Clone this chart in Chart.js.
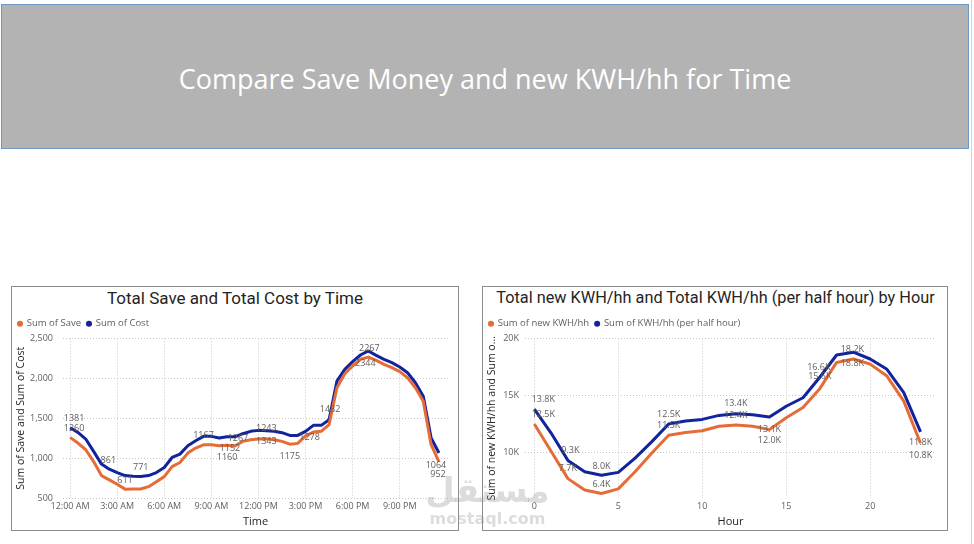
<!DOCTYPE html>
<html>
<head>
<meta charset="utf-8">
<script src="https://cdn.jsdelivr.net/npm/chart.js@4.4.0/dist/chart.umd.min.js"></script>
<style>
    body { margin: 0; width: 974px; height: 544px; background: #fff; position: relative; overflow: hidden; font-family: "Open Sans", sans-serif; }
    #banner { position: absolute; left: 1px; top: 4px; width: 968px; height: 145px; box-sizing: border-box; background: #b3b3b3; border: 1px solid #6d98c6; }
    #banner div { position: absolute; left: 0; right: 0; top: 56px; text-align: center; color: #fff; font-size: 27px; line-height: 36px; }
    #edge { position: absolute; left: 971px; top: 0; width: 1px; height: 544px; background: #d4d4d4; }
    .card { position: absolute; top: 286px; height: 245px; box-sizing: border-box; border: 1px solid #8c8c8c; background: #fff; }
    .card .title { position: absolute; left: 0; right: 0; top: 1px; text-align: center; font-family: Roboto, sans-serif; font-size: 17px; line-height: 20px; color: #252423; white-space: nowrap; }
    .card canvas { position: absolute; left: 0; top: 0; }
    #mark { position: absolute; left: 420px; top: 470px; width: 135px; text-align: center; color: rgba(140, 140, 140, 0.3); font-family: "DejaVu Sans", sans-serif; font-weight: bold; pointer-events: none; }
    #mark .ar { font-size: 34px; line-height: 40px; }
    #mark .en { font-size: 16px; line-height: 18px; }
</style>
</head>
<body>
<div id="banner"><div>Compare Save Money and new KWH/hh for Time</div></div>
<div id="edge"></div>

<div class="card" style="left: 11px; width: 448px;">
    <div class="title">Total Save and Total Cost by Time</div>
    <canvas id="time-chart" width="446" height="243"></canvas>
</div>

<div class="card" style="left: 482px; width: 466px;">
    <div class="title" style="font-size: 16.3px; left: 1px;">Total new KWH/hh and Total KWH/hh (per half hour) by Hour</div>
    <canvas id="hour-chart" width="464" height="243"></canvas>
</div>

<div id="mark"><div class="ar">مستقل</div><div class="en">mostaql.com</div></div>

<script>
    // Data, left chart (half hour slots)
    const times = ["12:00 AM", "12:30 AM", "1:00 AM", "1:30 AM", "2:00 AM", "2:30 AM", "3:00 AM", "3:30 AM",
        "4:00 AM", "4:30 AM", "5:00 AM", "5:30 AM", "6:00 AM", "6:30 AM", "7:00 AM", "7:30 AM",
        "8:00 AM", "8:30 AM", "9:00 AM", "9:30 AM", "10:00 AM", "10:30 AM", "11:00 AM", "11:30 AM",
        "12:00 PM", "12:30 PM", "1:00 PM", "1:30 PM", "2:00 PM", "2:30 PM", "3:00 PM", "3:30 PM",
        "4:00 PM", "4:30 PM", "5:00 PM", "5:30 PM", "6:00 PM", "6:30 PM", "7:00 PM", "7:30 PM",
        "8:00 PM", "8:30 PM", "9:00 PM", "9:30 PM", "10:00 PM", "10:30 PM", "11:00 PM", "11:30 PM"];
    const timeTicks = ["12:00 AM", "3:00 AM", "6:00 AM", "9:00 AM", "12:00 PM", "3:00 PM", "6:00 PM", "9:00 PM"];
    const saveValues = [1260, 1189, 1105, 957, 781, 727, 672, 611, 613, 613, 642, 705,
        768, 894, 945, 1063, 1126, 1167, 1168, 1155, 1160, 1152, 1210, 1231,
        1239, 1243, 1231, 1210, 1175, 1185, 1278, 1327, 1336, 1420, 1882, 2058,
        2155, 2239, 2267, 2226, 2176, 2134, 2084, 2008, 1882, 1714, 1168, 952];
    const costValues = [1381, 1323, 1239, 1084, 925, 861, 819, 781, 773, 771, 781, 819,
        882, 1008, 1050, 1155, 1218, 1273, 1273, 1252, 1269, 1267, 1306, 1336,
        1348, 1343, 1336, 1319, 1285, 1285, 1336, 1411, 1411, 1482, 1966, 2113,
        2210, 2293, 2344, 2289, 2239, 2197, 2142, 2071, 1945, 1777, 1252, 1064];

    // Data, right chart (hour of day)
    const hours = [0, 1, 2, 3, 4, 5, 6, 7, 8, 9, 10, 11, 12, 13, 14, 15, 16, 17, 18, 19, 20, 21, 22, 23];
    const hourTicks = [0, 5, 10, 15, 20];
    const kwhTicks = [10000, 15000, 20000];
    const newKwh = [12500, 10100, 7700, 6700, 6400, 6800, 8300, 9950, 11500, 11750, 11900, 12300,
        12400, 12300, 12000, 13050, 13950, 15600, 17900, 18200, 17750, 16700, 14500, 10800];
    const halfHourKwh = [13800, 11700, 9300, 8300, 8000, 8250, 9500, 10950, 12500, 12750, 12900, 13250,
        13400, 13300, 13100, 14050, 14800, 16600, 18550, 18800, 18200, 17300, 15250, 11800];

    // which points get a value label: [dataset, index, dx, dy]
    const timeLabels = [[1, 0, 4, -9], [0, 0, 4, -9], [1, 5, -1, -9], [0, 7, 0, -9], [1, 9, 0, -9],
        [0, 17, 0, -9], [0, 21, -5, 2], [0, 20, 0, 12], [1, 21, 3, 2], [0, 25, 0, -10], [1, 25, 0, 11],
        [0, 28, 0, 12], [0, 30, 4, 1.5], [1, 33, 1, -10], [0, 38, 1, -9], [1, 38, -3, 12],
        [1, 47, -3, 12], [0, 47, -1, 12]];
    const hourLabels = [[1, 0, 9, -10], [0, 0, 9, -10], [1, 2, 2.5, -10], [0, 2, 0, -10.5],
        [1, 4, 0, -9], [0, 4, 0, -9.5], [1, 8, 0, -9.5], [0, 8, 0, -9.5], [1, 12, 0, -10], [0, 12, 0, -10],
        [1, 14, 0, 12], [0, 14, 0, 11], [1, 17, -1, -10], [0, 17, 0, -12.5], [0, 19, -1, -10],
        [1, 19, -1, 11.5], [1, 23, 0, 10.5], [0, 23, 0, 12]];

    const orange = "#E66C37";
    const blue = "#12239E";
    const tickColor = "#605E5C";
    const gridColor = "#C8C6C4";

    Chart.defaults.font.family = '"Open Sans", sans-serif';
    Chart.defaults.color = tickColor;

    // draws the Power BI style data labels
    function valueLabels(items, format) {
        return {
            id: 'valueLabels',
            afterDatasetsDraw: function (chart) {
                const ctx = chart.ctx;
                ctx.save();
                ctx.font = '9px "Open Sans"';
                ctx.fillStyle = tickColor;
                ctx.textAlign = 'center';
                ctx.textBaseline = 'middle';
                items.forEach(function (it) {
                    const pt = chart.getDatasetMeta(it[0]).data[it[1]];
                    const v = chart.data.datasets[it[0]].data[it[1]].y;
                    ctx.fillText(format(v), pt.x + it[2], pt.y + it[3]);
                });
                ctx.restore();
            }
        };
    }

    function line(label, xs, ys, color) {
        return {
            label: label,
            data: ys.map(function (v, i) { return {x: xs[i], y: v}; }),
            borderColor: color,
            backgroundColor: color,
            borderWidth: 3,
            borderJoinStyle: 'round',
            pointRadius: 0,
            tension: 0
        };
    }

    function legendOpts() {
        return {
            position: 'top',
            align: 'start',
            labels: {
                usePointStyle: true,
                pointStyle: 'circle',
                boxWidth: 4,
                boxHeight: 4.3,
                padding: 6,
                font: {size: 9.5},
                color: tickColor,
                generateLabels: function (chart) {
                    return Chart.defaults.plugins.legend.labels.generateLabels(chart).map(function (item) {
                        item.lineWidth = 0;
                        return item;
                    });
                }
            }
        };
    }

    const dotted = {display: false, dash: [1, 2]};
    const axisTitle = {size: 10.5};

    // Left chart
    new Chart(document.getElementById('time-chart'), {
        type: 'line',
        data: {
            datasets: [
                line('Sum of Save', times.map(function (t, i) { return i; }), saveValues, orange),
                line('Sum of Cost', times.map(function (t, i) { return i; }), costValues, blue)
            ]
        },
        options: {
            responsive: false,
            animation: false,
            devicePixelRatio: 1,
            layout: {padding: {left: 0, right: 10, top: 26, bottom: 0}},
            plugins: {legend: legendOpts(), tooltip: {enabled: false}},
            scales: {
                x: {
                    type: 'linear', min: -0.9, max: 48.15,
                    afterBuildTicks: function (s) { s.ticks = timeTicks.map(function (t) { return {value: times.indexOf(t)}; }); },
                    afterFit: function (s) { s.height = 32; },
                    ticks: {callback: function (v) { return times[v]; }, font: {size: 9}, padding: 3, maxRotation: 0, autoSkip: false},
                    grid: {color: gridColor, drawTicks: false},
                    border: dotted,
                    title: {display: true, text: 'Time', color: '#252423', font: {size: 11}, padding: {top: 0, bottom: 2}}
                },
                y: {
                    min: 500, max: 2500,
                    afterFit: function (s) { s.width = 51; },
                    ticks: {stepSize: 500, font: {size: 9}, padding: 10},
                    grid: {color: gridColor, drawTicks: false},
                    border: dotted,
                    title: {display: true, text: 'Sum of Save and Sum of Cost', color: '#252423', font: axisTitle, padding: {top: 3, bottom: 0}}
                }
            }
        },
        plugins: [valueLabels(timeLabels, function (v) { return String(v); })]
    });

    // Right chart
    new Chart(document.getElementById('hour-chart'), {
        type: 'line',
        data: {
            datasets: [
                line('Sum of new KWH/hh', hours, newKwh, orange),
                line('Sum of KWH/hh (per half hour)', hours, halfHourKwh, blue)
            ]
        },
        options: {
            responsive: false,
            animation: false,
            devicePixelRatio: 1,
            layout: {padding: {left: 0, right: 11, top: 26, bottom: 0}},
            plugins: {legend: legendOpts(), tooltip: {enabled: false}},
            scales: {
                x: {
                    type: 'linear', min: -0.555, max: 23.92,
                    afterBuildTicks: function (s) { s.ticks = hourTicks.map(function (h) { return {value: h}; }); },
                    afterFit: function (s) { s.height = 32; },
                    ticks: {font: {size: 9}, padding: 3, maxRotation: 0, autoSkip: false},
                    grid: {color: gridColor, drawTicks: false},
                    border: dotted,
                    title: {display: true, text: 'Hour', color: '#252423', font: {size: 11}, padding: {top: 0, bottom: 2}}
                },
                y: {
                    min: 6000, max: 20000,
                    afterBuildTicks: function (s) { s.ticks = kwhTicks.map(function (v) { return {value: v}; }); },
                    afterFit: function (s) { s.width = 42; },
                    ticks: {callback: function (v) { return (v / 1000) + 'K'; }, font: {size: 9}, padding: 6},
                    grid: {color: gridColor, drawTicks: false},
                    border: dotted,
                    title: {display: true, text: 'Sum of new KWH/hh and Sum o...', color: '#252423', font: axisTitle, padding: {top: 3, bottom: 0}}
                }
            }
        },
        plugins: [valueLabels(hourLabels, function (v) { return (v / 1000).toFixed(1) + 'K'; })]
    });
</script>
</body>
</html>
